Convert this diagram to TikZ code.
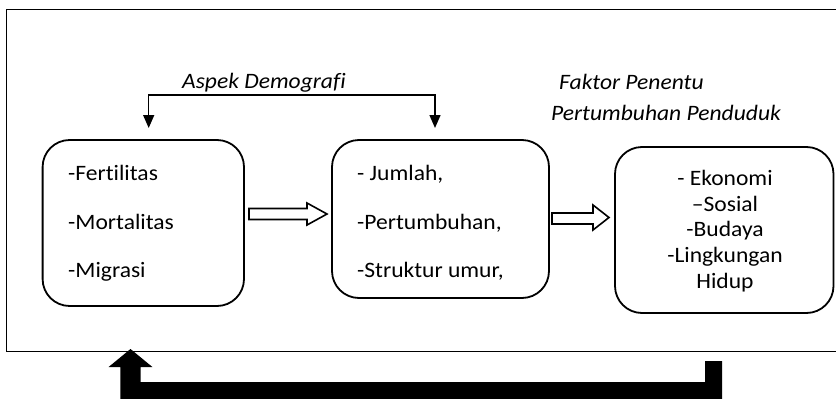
\documentclass[tikz,border=0pt]{standalone}
\usepackage{fontspec}
\setmainfont{Carlito}[FakeStretch=1.07,Ligatures={NoCommon}]
\usetikzlibrary{arrows.meta}
\begin{document}
\begin{tikzpicture}[x=1pt,y=-1pt,
  txt/.style={font=\fontsize{22}{26}\selectfont, inner sep=0pt, anchor=base west},
  ctxt/.style={font=\fontsize{22}{26}\selectfont, inner sep=0pt, anchor=base},
  itxt/.style={font=\fontsize{22}{26}\selectfont\itshape, inner sep=0pt, anchor=base west},
  rbox/.style={draw, line width=1.8pt, rounded corners=27pt},
  hollow/.style={draw, line width=1.6pt, fill=white, line join=miter},
]
\useasboundingbox (0,0) rectangle (836,399);
% outer frame
\draw[line width=1.8pt] (6.5,9.5) rectangle (845,351.5);
% boxes
\draw[rbox] (42.6,140) rectangle (244,306);
\draw[rbox] (332,140) rectangle (549,298);
\draw[rbox] (615,147) rectangle (833.5,313);
% texts in box 1
\node[txt] (f1) at (68,180) {-Fertilitas};
\node[txt] (f2) at (68,229) {-Mortalitas};
\node[txt] (f3) at (68,277) {-Migrasi};
% texts in box 2
\node[txt] (j1) at (357,180) {- Jumlah,};
\node[txt] (j2) at (357,229) {-Pertumbuhan,};
\node[txt] (j3) at (357,277) {-Struktur umur,};
% texts in box 3
\node[ctxt] (e1) at (725,185) {- Ekonomi};
\node[ctxt] (e2) at (725,211) {–Sosial};
\node[ctxt] (e3) at (725,236.5) {-Budaya};
\node[ctxt] (e4) at (725,262) {-Lingkungan};
\node[ctxt] (e5) at (725,288) {Hidup};
% italic labels
\node[itxt] (ad) at (182,88) {Aspek Demografi};
\node[itxt] (fp1) at (559,89) {Faktor Penentu};
\node[itxt] (fp2) at (551,120) {Pertumbuhan Penduduk};
% top bracket
\coordinate (bl) at (148.7,128);
\coordinate (br) at (435,128);
\draw[line width=1.4pt, {Triangle[width=11pt,length=13pt]}-{Triangle[width=11pt,length=13pt]}]
  (bl) -- (148.7,95) -- (435,95) -- (br);
% hollow arrows
\draw[hollow] (249,208.5) -- (307,208.5) -- (307,203) -- (327,214) -- (307,225) -- (307,219.5) -- (249,219.5) -- cycle;
\draw[hollow] (552,213) -- (593,213) -- (593,205) -- (609,217.5) -- (593,230) -- (593,224) -- (552,224) -- cycle;
% bottom thick feedback arrow
\fill (120.4,405) -- (120.4,367) -- (108.6,367) -- (130.5,349) -- (152.4,367) -- (140.6,367)
  -- (140.6,382) -- (705,382) -- (705,361) -- (722,361) -- (722,405) -- cycle;
\end{tikzpicture}
\end{document}
